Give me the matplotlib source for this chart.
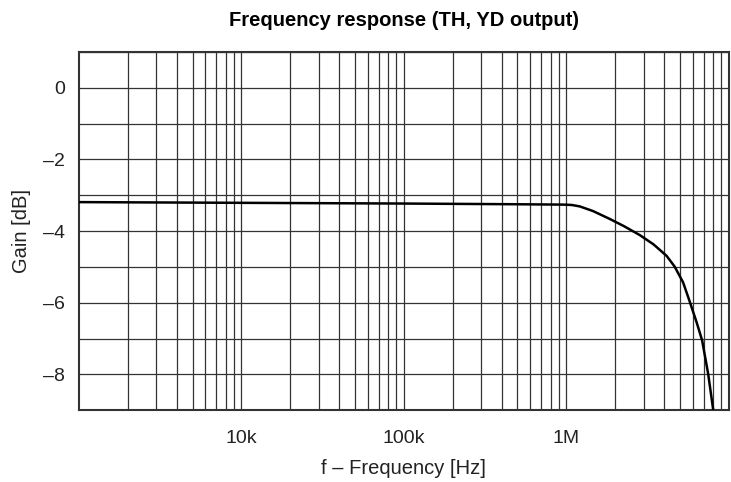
import matplotlib.pyplot as plt
from matplotlib.ticker import FixedLocator, FixedFormatter, NullFormatter

plt.rcParams["font.family"] = ["Liberation Sans", "DejaVu Sans"]

# values
freq_hz = [1e3, 1e4, 1e5, 5e5, 0.965e6, 1.08e6, 1.21e6, 1.46e6, 1.85e6,
           2.26e6, 2.83e6, 3.44e6, 4.14e6, 4.64e6, 5.23e6, 5.73e6, 6.33e6,
           6.85e6, 7.46e6, 8.0e6]
gain_db = [-3.19, -3.21, -3.23, -3.25, -3.26, -3.27, -3.31, -3.44, -3.66,
           -3.86, -4.11, -4.37, -4.69, -4.99, -5.43, -5.95, -6.54,
           -7.05, -7.98, -8.96]

x_ticks = [1e4, 1e5, 1e6]
x_labels = ["10k", "100k", "1M"]
y_ticks = [0, -2, -4, -6, -8]
y_labels = ["0", "\u20132", "\u20134", "\u20136", "\u20138"]

fig = plt.figure(figsize=(7.31, 4.82), dpi=100)
ax = fig.add_axes([0.108, 0.149, 0.889, 0.743])

ax.plot(freq_hz, gain_db, color="black", lw=1.8, zorder=3)

ax.set_xscale("log")
ax.set_xlim(1e3, 1e7)
ax.set_ylim(-9, 1)

minor = [m * 10 ** e for e in range(3, 7) for m in range(2, 10)]
ax.xaxis.set_major_locator(FixedLocator(x_ticks))
ax.xaxis.set_major_formatter(FixedFormatter(x_labels))
ax.xaxis.set_minor_locator(FixedLocator(minor))
ax.xaxis.set_minor_formatter(NullFormatter())
ax.yaxis.set_major_locator(FixedLocator(y_ticks))
ax.yaxis.set_major_formatter(FixedFormatter(y_labels))
ax.yaxis.set_minor_locator(FixedLocator([1, -1, -3, -5, -7]))

ax.grid(True, which="both", color="#333333", lw=0.9)
ax.tick_params(which="both", length=0, labelsize=14, colors="#222222")
ax.tick_params(axis="x", pad=14)
ax.tick_params(axis="y", pad=10)

for s in ax.spines.values():
    s.set_color("#333333")
    s.set_linewidth(1.5)

ax.set_xlabel("f \u2013 Frequency [Hz]", fontsize=14.5, color="#222222", labelpad=9)
ax.set_ylabel("Gain [dB]", fontsize=14.5, color="#222222", labelpad=9)
ax.set_title("Frequency response (TH, YD output)", fontsize=14.5,
             fontweight="bold", pad=19)

fig.savefig("out.png", dpi=100)
